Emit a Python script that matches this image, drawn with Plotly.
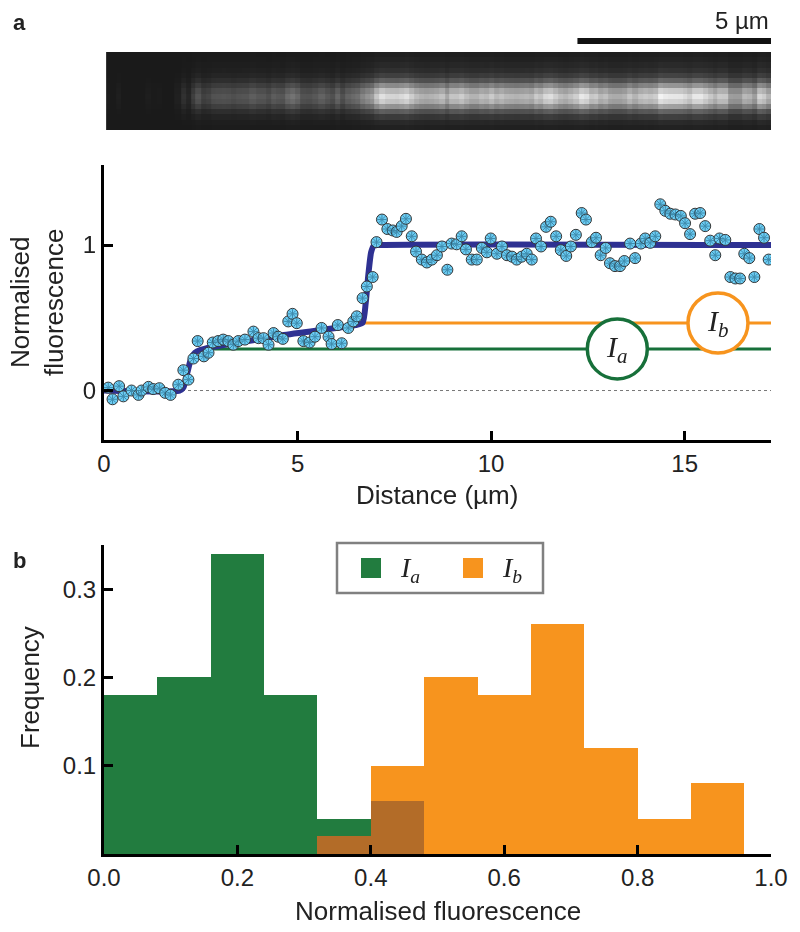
import plotly.graph_objects as go

W, H = 800, 932


def px(x):
    return x / W


def py(y):
    return 1 - y / H


# ---------------- data ----------------
distance_um = [0.11, 0.22, 0.39, 0.50, 0.71, 0.89, 0.97, 1.15, 1.27, 1.43, 1.58, 1.72, 1.92,
               2.05, 2.18, 2.31, 2.42, 2.58, 2.70, 2.81, 2.95, 3.08, 3.21, 3.34, 3.47, 3.64,
               3.86, 3.99, 4.12, 4.25, 4.38, 4.50, 4.62, 4.76, 4.87, 4.98, 5.15, 5.31, 5.45,
               5.62, 5.80, 5.88, 6.04, 6.14, 6.31, 6.44, 6.53, 6.68, 6.79, 6.94, 7.04, 7.18,
               7.32, 7.46, 7.56, 7.69, 7.80, 7.95, 8.06, 8.21, 8.34, 8.47, 8.60, 8.73, 8.87,
               8.98, 9.11, 9.24, 9.35, 9.50, 9.63, 9.76, 9.89, 9.99, 10.15, 10.28, 10.41,
               10.54, 10.66, 10.79, 10.92, 11.05, 11.16, 11.29, 11.42, 11.54, 11.68, 11.80,
               11.94, 12.06, 12.19, 12.34, 12.45, 12.60, 12.71, 12.83, 12.96, 13.07, 13.20,
               13.33, 13.44, 13.59, 13.72, 13.87, 13.98, 14.11, 14.24, 14.37, 14.50, 14.63,
               14.76, 14.90, 15.01, 15.14, 15.27, 15.40, 15.53, 15.66, 15.79, 15.90, 16.05,
               16.18, 16.31, 16.43, 16.54, 16.67, 16.80, 16.93, 17.05, 17.17]
norm_fluor = [0.02, -0.06, 0.03, -0.04, 0.00, -0.03, 0.00, 0.025, 0.01, 0.016, -0.016, -0.03, 0.04,
              0.14, 0.075, 0.22, 0.34, 0.235, 0.26, 0.33, 0.34, 0.35, 0.34, 0.315, 0.34, 0.35,
              0.405, 0.36, 0.36, 0.315, 0.395, 0.37, 0.355, 0.475, 0.527, 0.463, 0.34, 0.33, 0.37,
              0.43, 0.37, 0.32, 0.45, 0.325, 0.43, 0.475, 0.51, 0.635, 0.715, 0.78, 1.02, 1.175,
              1.11, 1.10, 1.09, 1.13, 1.18, 1.06, 0.955, 0.90, 0.88, 0.90, 0.93, 0.99, 0.83,
              1.01, 1.005, 1.06, 0.97, 0.90, 0.90, 0.98, 0.95, 1.045, 0.94, 0.99, 0.93,
              0.92, 0.90, 0.92, 0.94, 0.90, 1.045, 0.99, 1.125, 1.16, 1.06, 0.965,
              0.925, 0.99, 1.07, 1.22, 1.175, 1.02, 1.05, 0.93, 0.98, 0.875, 0.855,
              0.855, 0.89, 1.01, 0.91, 1.01, 1.045, 1.015, 1.06, 1.28, 1.235, 1.215,
              1.21, 1.20, 1.15, 1.075, 1.215, 1.22, 1.13, 1.03, 0.93, 1.045, 1.035,
              0.78, 0.77, 0.77, 0.94, 0.91, 0.78, 1.11, 1.05, 0.90]

fit_distance = [0, 1.95, 2.05, 2.15, 2.25, 2.35, 2.5, 2.8, 3.5, 4.6, 6.0, 6.5, 6.68, 6.76,
                6.83, 6.9, 6.97, 7.08, 17.23]
fit_value = [0, 0, 0.02, 0.12, 0.22, 0.26, 0.28, 0.30, 0.33, 0.38, 0.43, 0.45, 0.465, 0.6,
             0.8, 0.95, 0.995, 1.0, 1.0]

level_a = 0.286
level_a_start = 2.8
level_b = 0.464
level_b_start = 6.72
distance_end = 17.23

# cross-section brightness of the filament image (top row to bottom row)
band_cross_section = [0.03, 0.05, 0.08, 0.12, 0.2, 0.35, 0.6, 0.85, 1.0, 0.9, 0.65, 0.35, 0.18,
                      0.08, 0.04]
image_background = 0.12

bin_left = [0.00, 0.08, 0.16, 0.24, 0.32, 0.40, 0.48, 0.56, 0.64, 0.72, 0.80, 0.88]
bin_width = 0.08
freq_a = [0.18, 0.20, 0.34, 0.18, 0.04, 0.06, 0, 0, 0, 0, 0, 0]
freq_b = [0, 0, 0, 0, 0.02, 0.10, 0.20, 0.18, 0.26, 0.12, 0.04, 0.08]

# ---------------- colours ----------------
C_FIT = "#2E3192"
C_PT = "#6DCFF6"
C_GREEN_LINE = "#17703A"
C_GREEN = "#227C3F"
C_ORANGE = "#F7941E"
C_OVERLAP = "#B36C28"

SANS = "Liberation Sans, Arial, Helvetica, sans-serif"
SERIF = "Liberation Serif, Times New Roman, serif"

fig = go.Figure()

# ---------------- image strip ----------------
z = []
for w in band_cross_section:
    z.append([image_background + 0.8 * w * max(v, 0) for v in norm_fluor])
fig.add_trace(go.Heatmap(
    x=distance_um, y=list(range(len(band_cross_section))), z=z,
    colorscale=[[0, "black"], [1, "white"]], zmin=0, zmax=1.2,
    showscale=False, xaxis="x3", yaxis="y3", hoverinfo="skip"))

# ---------------- profile plot ----------------
fig.add_trace(go.Scatter(x=[0, distance_end], y=[0, 0], mode="lines",
                         line=dict(color="#777777", width=1, dash="dot"),
                         showlegend=False, hoverinfo="skip"))
fig.add_trace(go.Scatter(x=[level_a_start, distance_end], y=[level_a, level_a], mode="lines",
                         line=dict(color=C_GREEN_LINE, width=3), showlegend=False))
fig.add_trace(go.Scatter(x=[level_b_start, distance_end], y=[level_b, level_b], mode="lines",
                         line=dict(color=C_ORANGE, width=3), showlegend=False))
fig.add_trace(go.Scatter(x=fit_distance, y=fit_value, mode="lines",
                         line=dict(color=C_FIT, width=6, shape="spline", smoothing=0.6),
                         showlegend=False))
fig.add_trace(go.Scatter(x=distance_um, y=norm_fluor, mode="markers",
                         marker=dict(symbol="circle", size=11, color=C_PT,
                                     line=dict(color="#333333", width=1)),
                         showlegend=False))
fig.add_trace(go.Scatter(x=distance_um, y=norm_fluor, mode="markers",
                         marker=dict(symbol="asterisk-open", size=8, color="#2b6d8c",
                                     line=dict(color="#2b6d8c", width=1)),
                         opacity=0.7, showlegend=False, hoverinfo="skip"))

# ---------------- histogram ----------------
centers = [b + bin_width / 2 for b in bin_left]
overlap = [min(a, b) for a, b in zip(freq_a, freq_b)]
fig.add_trace(go.Bar(x=centers, y=freq_a, width=bin_width, marker=dict(color=C_GREEN, line=dict(width=0)),
                     xaxis="x2", yaxis="y2", name="Ia", showlegend=False))
fig.add_trace(go.Bar(x=centers, y=freq_b, width=bin_width, marker=dict(color=C_ORANGE, line=dict(width=0)),
                     xaxis="x2", yaxis="y2", name="Ib", showlegend=False))
fig.add_trace(go.Bar(x=centers, y=overlap, width=bin_width, marker=dict(color=C_OVERLAP, line=dict(width=0)),
                     xaxis="x2", yaxis="y2", showlegend=False, hoverinfo="skip"))

axis_common = dict(showline=True, linecolor="black", linewidth=3, ticks="inside",
                   ticklen=9, tickwidth=3, tickcolor="black", showgrid=False, zeroline=False,
                   automargin=False,
                   tickfont=dict(family=SANS, size=24, color="#222222"))

fig.update_layout(
    width=W, height=H, margin=dict(l=0, r=0, t=0, b=0, autoexpand=False),
    paper_bgcolor="white", plot_bgcolor="white",
    barmode="overlay", bargap=0,
    xaxis=dict(domain=[px(104), px(771)], range=[0, distance_end], tickvals=[0, 5, 10, 15],
               anchor="y", **axis_common),
    yaxis=dict(domain=[py(440), py(165)], range=[-0.34, 1.55], tickvals=[0, 1],
               anchor="x", **axis_common),
    xaxis2=dict(domain=[px(104), px(771)], range=[0, 1.0],
                tickvals=[0, 0.2, 0.4, 0.6, 0.8, 1.0],
                ticktext=["0.0", "0.2", "0.4", "0.6", "0.8", "1.0"], anchor="y2", **axis_common),
    yaxis2=dict(domain=[py(854), py(545)], range=[0, 0.35], tickvals=[0.1, 0.2, 0.3],
                anchor="x2", **axis_common),
    xaxis3=dict(domain=[px(104), px(771)], range=[0, distance_end], visible=False, anchor="y3",
                automargin=False),
    yaxis3=dict(domain=[py(130), py(52)], range=[len(band_cross_section) - 0.5, -0.5],
                visible=False, anchor="x3", automargin=False),
    showlegend=False,
)

shapes = []
# scale bar 5 µm
shapes.append(dict(type="line", xref="x3", yref="paper", x0=distance_end - 5, x1=distance_end,
                   y0=py(41), y1=py(41), line=dict(color="#111111", width=6)))
# circles around the level labels
for cx, cy, col in [(13.26, level_a, C_GREEN_LINE), (15.86, level_b, C_ORANGE)]:
    shapes.append(dict(type="circle", xref="x", yref="y", xsizemode="pixel", ysizemode="pixel",
                       xanchor=cx, yanchor=cy, x0=-30, x1=30, y0=-30, y1=30,
                       fillcolor="white", line=dict(color=col, width=3.5), layer="above"))
# legend box for histogram
shapes.append(dict(type="rect", xref="paper", yref="paper", x0=px(337), x1=px(543),
                   y0=py(593), y1=py(543), line=dict(color="#808080", width=2.5),
                   fillcolor="white", layer="below"))
shapes.append(dict(type="rect", xref="paper", yref="paper", x0=px(361), x1=px(381),
                   y0=py(578), y1=py(558), line=dict(width=0), fillcolor=C_GREEN))
shapes.append(dict(type="rect", xref="paper", yref="paper", x0=px(463), x1=px(483),
                   y0=py(578), y1=py(558), line=dict(width=0), fillcolor=C_ORANGE))
fig.update_layout(shapes=shapes)

ann = []
ann.append(dict(text="5 µm", xref="paper", yref="paper", x=px(771), y=py(21), xanchor="right",
                yanchor="middle", showarrow=False, font=dict(family=SANS, size=24, color="#222222")))
ann.append(dict(text="<b>a</b>", xref="paper", yref="paper", x=px(11), y=py(22), xanchor="left",
                yanchor="middle", showarrow=False, font=dict(family=SANS, size=22, color="#222222")))
ann.append(dict(text="<b>b</b>", xref="paper", yref="paper", x=px(11), y=py(560), xanchor="left",
                yanchor="middle", showarrow=False, font=dict(family=SANS, size=22, color="#222222")))
ann.append(dict(text="Normalised<br>fluorescence", xref="paper", yref="paper", x=px(37), y=py(303),
                xanchor="center", yanchor="middle", textangle=-90, showarrow=False,
                font=dict(family=SANS, size=26, color="#222222")))
ann.append(dict(text="Distance (µm)", xref="paper", yref="paper", x=px(437), y=py(495),
                xanchor="center", yanchor="middle", showarrow=False,
                font=dict(family=SANS, size=26, color="#222222")))
ann.append(dict(text="Frequency", xref="paper", yref="paper", x=px(30), y=py(688),
                xanchor="center", yanchor="middle", textangle=-90, showarrow=False,
                font=dict(family=SANS, size=26, color="#222222")))
ann.append(dict(text="Normalised fluorescence", xref="paper", yref="paper", x=px(438), y=py(911),
                xanchor="center", yanchor="middle", showarrow=False,
                font=dict(family=SANS, size=26, color="#222222")))
# circle labels
ann.append(dict(text="<i>I<sub>a</sub></i>", xref="x", yref="y", x=13.26, y=level_a,
                xanchor="center", yanchor="middle", showarrow=False,
                font=dict(family=SERIF, size=30, color="#222222")))
ann.append(dict(text="<i>I<sub>b</sub></i>", xref="x", yref="y", x=15.86, y=level_b,
                xanchor="center", yanchor="middle", showarrow=False,
                font=dict(family=SERIF, size=30, color="#222222")))
# legend labels
ann.append(dict(text="<i>I<sub>a</sub></i>", xref="paper", yref="paper", x=px(398), y=py(569),
                xanchor="left", yanchor="middle", showarrow=False,
                font=dict(family=SERIF, size=28, color="#222222")))
ann.append(dict(text="<i>I<sub>b</sub></i>", xref="paper", yref="paper", x=px(500), y=py(569),
                xanchor="left", yanchor="middle", showarrow=False,
                font=dict(family=SERIF, size=28, color="#222222")))
fig.update_layout(annotations=ann)

fig.write_html("out.html", config={"displayModeBar": False},
               post_script="document.body.style.margin='0';document.body.style.overflow='hidden';")
